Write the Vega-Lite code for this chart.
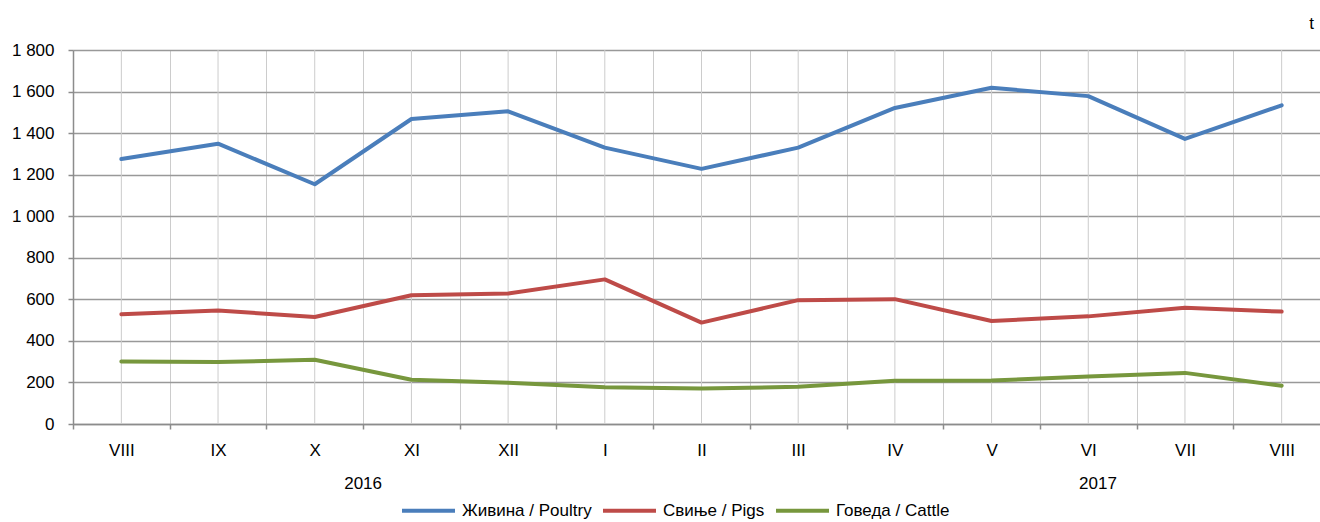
{
  "$schema": "https://vega.github.io/schema/vega-lite/v6.json",
  "width": 1247,
  "height": 374,
  "autosize": {"type": "none"},
  "padding": {"left": 73, "top": 50, "right": 0, "bottom": 98},
  "background": "white",
  "config": {
    "font": "Liberation Sans",
    "view": {"stroke": null},
    "axis": {"labelFont": "Liberation Sans", "labelColor": "#000000"},
    "text": {"font": "Liberation Sans"}
  },
  "title": {"text": "t", "anchor": "end", "frame": "group", "orient": "top", "offset": 8, "fontSize": 17, "fontWeight": "normal", "font": "Liberation Sans", "color": "#000000", "dx": -6},
  "datasets": {
    "main": [
      {"month": "VIII 2016", "series": "Живина / Poultry", "value": 1275},
      {"month": "IX 2016", "series": "Живина / Poultry", "value": 1349},
      {"month": "X 2016", "series": "Живина / Poultry", "value": 1154},
      {"month": "XI 2016", "series": "Живина / Poultry", "value": 1468},
      {"month": "XII 2016", "series": "Живина / Poultry", "value": 1505},
      {"month": "I 2017", "series": "Живина / Poultry", "value": 1330},
      {"month": "II 2017", "series": "Живина / Poultry", "value": 1228},
      {"month": "III 2017", "series": "Живина / Poultry", "value": 1330},
      {"month": "IV 2017", "series": "Живина / Poultry", "value": 1521},
      {"month": "V 2017", "series": "Живина / Poultry", "value": 1618},
      {"month": "VI 2017", "series": "Живина / Poultry", "value": 1578},
      {"month": "VII 2017", "series": "Живина / Poultry", "value": 1372},
      {"month": "VIII 2017", "series": "Живина / Poultry", "value": 1534},
      {"month": "VIII 2016", "series": "Свиње / Pigs", "value": 528},
      {"month": "IX 2016", "series": "Свиње / Pigs", "value": 546},
      {"month": "X 2016", "series": "Свиње / Pigs", "value": 515},
      {"month": "XI 2016", "series": "Свиње / Pigs", "value": 620},
      {"month": "XII 2016", "series": "Свиње / Pigs", "value": 628},
      {"month": "I 2017", "series": "Свиње / Pigs", "value": 696},
      {"month": "II 2017", "series": "Свиње / Pigs", "value": 488},
      {"month": "III 2017", "series": "Свиње / Pigs", "value": 596},
      {"month": "IV 2017", "series": "Свиње / Pigs", "value": 601},
      {"month": "V 2017", "series": "Свиње / Pigs", "value": 496},
      {"month": "VI 2017", "series": "Свиње / Pigs", "value": 518},
      {"month": "VII 2017", "series": "Свиње / Pigs", "value": 559},
      {"month": "VIII 2017", "series": "Свиње / Pigs", "value": 541},
      {"month": "VIII 2016", "series": "Говеда / Cattle", "value": 301},
      {"month": "IX 2016", "series": "Говеда / Cattle", "value": 298},
      {"month": "X 2016", "series": "Говеда / Cattle", "value": 309},
      {"month": "XI 2016", "series": "Говеда / Cattle", "value": 213},
      {"month": "XII 2016", "series": "Говеда / Cattle", "value": 198},
      {"month": "I 2017", "series": "Говеда / Cattle", "value": 177},
      {"month": "II 2017", "series": "Говеда / Cattle", "value": 171},
      {"month": "III 2017", "series": "Говеда / Cattle", "value": 179},
      {"month": "IV 2017", "series": "Говеда / Cattle", "value": 208},
      {"month": "V 2017", "series": "Говеда / Cattle", "value": 209},
      {"month": "VI 2017", "series": "Говеда / Cattle", "value": 229},
      {"month": "VII 2017", "series": "Говеда / Cattle", "value": 246},
      {"month": "VIII 2017", "series": "Говеда / Cattle", "value": 184}
    ],
    "years": [
      {"month": "X 2016", "year": "2016"},
      {"month": "VI 2017", "year": "2017"}
    ]
  },
  "layer": [
    {
      "data": {"name": "main"},
      "transform": [{"filter": "datum.series === 'Живина / Poultry'"}],
      "mark": {"type": "rule", "color": "#cccccc", "strokeWidth": 1},
      "encoding": {
        "x": {"field": "month", "type": "ordinal", "bandPosition": 0.5}
      }
    },
    {
      "data": {"name": "main"},
      "mark": {"type": "line", "strokeWidth": 4, "strokeCap": "round", "strokeJoin": "round"},
      "encoding": {
        "x": {
          "field": "month",
          "type": "ordinal",
          "bandPosition": 0.5,
          "sort": null,
          "scale": {
            "type": "band",
            "domain": ["VIII 2016", "IX 2016", "X 2016", "XI 2016", "XII 2016", "I 2017", "II 2017", "III 2017", "IV 2017", "V 2017", "VI 2017", "VII 2017", "VIII 2017"],
            "range": [0, 1257],
            "paddingInner": 0,
            "paddingOuter": 0
          },
          "axis": {
            "title": null,
            "tickBand": "extent",
            "grid": true,
            "gridColor": "#cccccc",
            "gridWidth": 1,
            "domainColor": "#8c8c8c",
            "domainWidth": 1.5,
            "tickColor": "#8c8c8c",
            "tickWidth": 1.5,
            "tickSize": 5,
            "labelAngle": 0,
            "labelAlign": "center",
            "labelFontSize": 17,
            "labelPadding": 21,
            "labelExpr": "datum.value ? split(datum.value, ' ')[0] : ''"
          }
        },
        "y": {
          "field": "value",
          "type": "quantitative",
          "scale": {"domain": [0, 1800], "nice": false},
          "axis": {
            "title": null,
            "values": [0, 200, 400, 600, 800, 1000, 1200, 1400, 1600, 1800],
            "grid": true,
            "gridColor": "#999999",
            "gridWidth": 1.5,
            "domainColor": "#8c8c8c",
            "domainWidth": 1.5,
            "tickColor": "#8c8c8c",
            "tickWidth": 1.5,
            "tickSize": 5,
            "labelFontSize": 17,
            "labelPadding": 14,
            "labelExpr": "replace(format(datum.value, ','), ',', ' ')"
          }
        },
        "color": {
          "field": "series",
          "type": "nominal",
          "scale": {
            "domain": ["Живина / Poultry", "Свиње / Pigs", "Говеда / Cattle"],
            "range": ["#4a7ebb", "#be4b48", "#77973d"]
          },
          "legend": {
            "title": null,
            "orient": "none",
            "direction": "horizontal",
            "legendX": 327,
            "legendY": 432,
            "symbolType": "stroke",
            "symbolSize": 2809,
            "symbolStrokeWidth": 4,
            "labelFontSize": 17,
            "labelFont": "Liberation Sans",
            "labelColor": "#000000",
            "labelOffset": 5,
            "columnPadding": 3,
            "labelLimit": 300
          }
        }
      }
    },
    {
      "data": {"name": "years"},
      "transform": [{"filter": "datum.year === '2016'"}],
      "mark": {"type": "text", "fontSize": 17, "baseline": "middle", "align": "center", "dy": 60, "color": "#000000"},
      "encoding": {
        "x": {"field": "month", "type": "ordinal", "bandPosition": 1},
        "y": {"datum": 0, "type": "quantitative"},
        "text": {"field": "year"}
      }
    },
    {
      "data": {"name": "years"},
      "transform": [{"filter": "datum.year === '2017'"}],
      "mark": {"type": "text", "fontSize": 17, "baseline": "middle", "align": "center", "dy": 60, "color": "#000000"},
      "encoding": {
        "x": {"field": "month", "type": "ordinal", "bandPosition": 0.6},
        "y": {"datum": 0, "type": "quantitative"},
        "text": {"field": "year"}
      }
    }
  ]
}
